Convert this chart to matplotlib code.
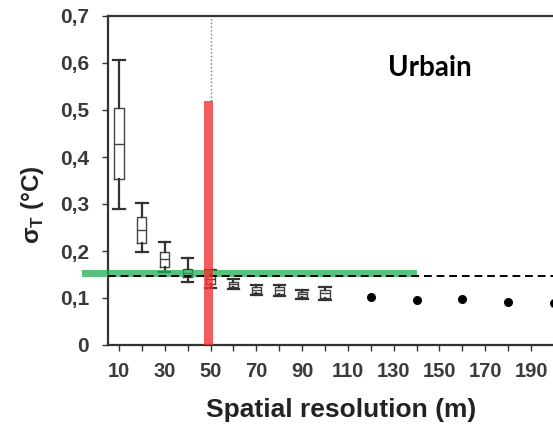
import matplotlib.pyplot as plt
from matplotlib.ticker import MultipleLocator, FixedLocator, FuncFormatter

# box plot positions (m) and stats
box_pos = [10, 20, 30, 40, 50, 60, 70, 80, 90, 100]
whis_lo = [0.289, 0.198, 0.155, 0.134, 0.121, 0.119, 0.106, 0.104, 0.098, 0.096]
q1 = [0.353, 0.217, 0.166, 0.145, 0.130, 0.124, 0.111, 0.109, 0.103, 0.101]
med = [0.428, 0.245, 0.183, 0.153, 0.140, 0.130, 0.118, 0.116, 0.108, 0.110]
q3 = [0.504, 0.272, 0.198, 0.162, 0.148, 0.135, 0.124, 0.123, 0.113, 0.118]
whis_hi = [0.606, 0.302, 0.219, 0.185, 0.160, 0.140, 0.128, 0.128, 0.117, 0.123]

# single points at coarse resolutions
dot_x = [120, 140, 160, 180, 200]
dot_y = [0.102, 0.096, 0.098, 0.091, 0.089]

threshold = 0.147
x_ticks = [10, 30, 50, 70, 90, 110, 130, 150, 170, 190]

font = 'Liberation Sans'
plt.rcParams['mathtext.fontset'] = 'custom'
plt.rcParams['mathtext.bf'] = 'Liberation Sans:bold'
plt.rcParams['mathtext.rm'] = 'Liberation Sans'

W, H = 553, 424
fig = plt.figure(figsize=(W / 100, H / 100), dpi=100)
ax = fig.add_axes([108 / W, (H - 345) / H, (W - 108) / W, (345 - 16) / H])

dark = '#333333'
stats = []
for i in range(len(box_pos)):
    stats.append(dict(whislo=whis_lo[i], q1=q1[i], med=med[i], q3=q3[i],
                      whishi=whis_hi[i], fliers=[]))
ax.bxp(stats, positions=box_pos, widths=4, showfliers=False,
       boxprops=dict(color='#444444', linewidth=1.0),
       medianprops=dict(color='#444444', linewidth=1.0),
       whiskerprops=dict(color=dark, linewidth=1.6),
       capprops=dict(color=dark, linewidth=1.6),
       capwidths=5, manage_ticks=False, zorder=3)

ax.scatter(dot_x, dot_y, s=30, color='black', zorder=3, clip_on=False)

# dashed threshold line and dotted line at 50 m
ax.axhline(threshold, color='black', linestyle=(0, (4, 2.5)), linewidth=1.4, zorder=5)
ax.plot([50, 50], [0.52, 0.7], color='#777777', linestyle=':', linewidth=1.0, zorder=2)

# highlight bands
ax.fill_between([-6, 140], 0.145, 0.160, color='#22ad55', alpha=0.75,
                linewidth=0, zorder=4, clip_on=False)
ax.fill_between([47.2, 51.2], 0, 0.52, color='#f03434', alpha=0.8,
                linewidth=0, zorder=6)

ax.text(145.8, 0.589, 'Urbain', fontsize=20, fontweight='bold', family='Lato',
        ha='center', va='center')

ax.set_xlim(5.2, 199.6)
ax.set_ylim(0, 0.7)
ax.yaxis.set_major_locator(MultipleLocator(0.1))
ax.yaxis.set_major_formatter(FuncFormatter(lambda v, p: '0' if abs(v) < 1e-9 else f'{v:.1f}'.replace('.', ',')))
ax.xaxis.set_major_locator(FixedLocator(x_ticks))
ax.xaxis.set_minor_locator(MultipleLocator(10))

for s in ['left', 'bottom', 'top']:
    ax.spines[s].set_linewidth(1.6)
    ax.spines[s].set_color(dark)
ax.spines['right'].set_visible(False)

ax.tick_params(axis='y', which='major', direction='out', length=4.5, width=1.0,
               color=dark, pad=9, labelsize=15, labelcolor='#3a3a3a')
ax.tick_params(axis='x', which='both', direction='out', length=4, width=1.0,
               color=dark, pad=8.5, labelsize=14.5, labelcolor='#3a3a3a')
for lab in ax.get_xticklabels() + ax.get_yticklabels():
    lab.set_fontweight('bold')
    lab.set_family(font)

fig.text(341 / W, 1 - 410 / H, 'Spatial resolution (m)', fontsize=19,
         fontweight='bold', color='#222222', ha='center', va='center', family=font)
fig.text(33 / W, 1 - 205 / H, r'$\mathbf{\sigma}_\mathbf{T}$ (°C)', fontsize=17.5,
         fontweight='bold', color='#222222', ha='center', va='center',
         rotation=90, family=font)

fig.savefig('out.png', dpi=100)
